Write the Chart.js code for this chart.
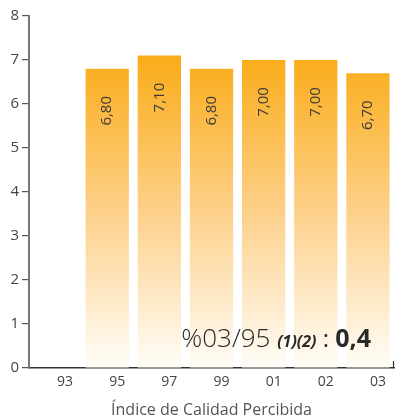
<!DOCTYPE html>
<html>
<head>
<meta charset="utf-8">
<script src="https://cdn.jsdelivr.net/npm/chart.js@4"></script>
<style>
  html, body { margin: 0; padding: 0; background: #fff; }
  #wrap { width: 395px; height: 420px; }
</style>
</head>
<body>
<div id="wrap"><canvas id="icpChart" width="395" height="420"></canvas></div>
<script>
const years = ["93", "95", "97", "99", "01", "02", "03"];
const icpValues = [null, 6.8, 7.1, 6.8, 7.0, 7.0, 6.7];
const valueLabels = ["", "6,80", "7,10", "6,80", "7,00", "7,00", "6,70"];
const yTicks = [0, 1, 2, 3, 4, 5, 6, 7, 8];
const axisTitle = "Índice de Calidad Percibida";

const FONT = "'Open Sans', 'Noto Sans', sans-serif";

// labels written vertically inside the bars + the %03/95 note + right end tick
const extras = {
  id: "extras",
  afterDatasetsDraw(chart) {
    const ctx = chart.ctx;
    const meta = chart.getDatasetMeta(0);
    ctx.save();
    ctx.fillStyle = "#3c3c3c";
    ctx.font = "15px " + FONT;
    ctx.textAlign = "center";
    ctx.textBaseline = "middle";
    meta.data.forEach((bar, i) => {
      if (icpValues[i] == null) return;
      ctx.save();
      ctx.translate(bar.x, bar.y + 42);
      ctx.rotate(-Math.PI / 2);
      ctx.fillText(valueLabels[i], 0, 0);
      ctx.restore();
    });

    // note bottom right
    const parts = [
      { t: "%03/95 ", f: "300 26px " + FONT },
      { t: "(1)(2)", f: "italic bold 16px " + FONT },
      { t: " : ", f: "24px " + FONT },
      { t: "0,4", f: "bold 25px " + FONT }
    ];
    let w = 0;
    parts.forEach(p => { ctx.font = p.f; p.w = ctx.measureText(p.t).width; w += p.w; });
    let x = 371 - w;
    ctx.textAlign = "left";
    ctx.textBaseline = "alphabetic";
    ctx.fillStyle = "#2a2a2a";
    parts.forEach(p => { ctx.font = p.f; ctx.fillText(p.t, x, 347); x += p.w; });

    const a = chart.chartArea;
    ctx.strokeStyle = "#333";
    ctx.lineWidth = 1.2;
    ctx.beginPath();
    ctx.moveTo(a.right - 0.5, a.bottom - 7);
    ctx.lineTo(a.right - 0.5, a.bottom);
    ctx.stroke();
    ctx.restore();
  }
};

const ctx = document.getElementById("icpChart").getContext("2d");
new Chart(ctx, {
  type: "bar",
  data: {
    labels: years,
    datasets: [{
      data: icpValues,
      backgroundColor: (c) => {
        const a = c.chart.chartArea;
        if (!a) return "#fbb020";
        const g = c.chart.ctx.createLinearGradient(0, a.top + 40, 0, a.bottom);
        g.addColorStop(0, "#faac18");
        g.addColorStop(0.5, "#fdd08a");
        g.addColorStop(1, "#fffdf8");
        return g;
      },
      borderWidth: 0,
      barPercentage: 0.83,
      categoryPercentage: 1.0
    }]
  },
  options: {
    responsive: false,
    animation: false,
    layout: { padding: { top: 16, right: 1, left: 0, bottom: 0 } },
    plugins: {
      legend: { display: false },
      tooltip: { enabled: false }
    },
    scales: {
      x: {
        grid: { display: false, drawTicks: false },
        border: { display: true, color: "#333", width: 1.5 },
        ticks: {
          color: "#444",
          font: { family: FONT, size: 14 },
          padding: 6,
          labelOffset: 10,
          maxRotation: 0
        },
        title: {
          display: true,
          text: axisTitle,
          color: "#555",
          font: { family: FONT, size: 16 },
          padding: { top: 4, bottom: 0 }
        }
      },
      y: {
        min: 0,
        max: 8,
        afterBuildTicks: (s) => { s.ticks = yTicks.map(v => ({ value: v })); },
        afterFit: (s) => { s.width = 29; },
        grid: { drawOnChartArea: false, tickLength: 7, color: "#555", lineWidth: 1.2 },
        border: { display: true, color: "#777", width: 2 },
        ticks: {
          color: "#444",
          font: { family: FONT, size: 15 },
          padding: 3
        }
      }
    }
  },
  plugins: [extras]
});
</script>
</body>
</html>
